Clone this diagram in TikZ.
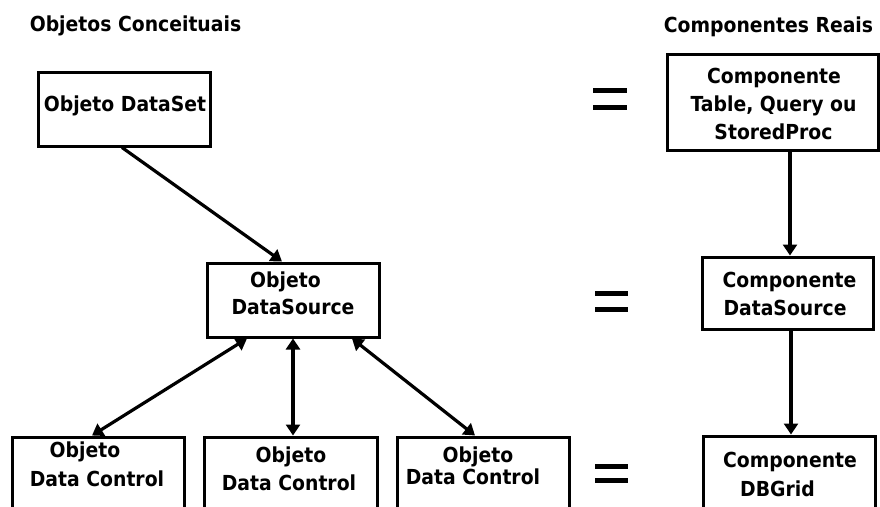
\documentclass[tikz,border=0pt]{standalone}
\usepackage{fontspec}
\setmainfont{DejaVu Sans}
\usetikzlibrary{arrows.meta}
\newcommand{\tl}[1]{\scalebox{1}[1.1]{#1}}
\tikzset{
  box/.style={draw=black, line width=3pt, fill=none, inner sep=0pt, minimum width=172pt, minimum height=74pt},
  lbl/.style={anchor=base, inner sep=0pt, font=\bfseries\fontsize{18.8}{22}\selectfont},
  conn/.style={line width=3.2pt, -{Triangle[width=14pt,length=11pt]}},
  bconn/.style={line width=3.2pt, {Triangle[width=14pt,length=11pt]}-{Triangle[width=14pt,length=11pt]}},
  eqbar/.style={line width=5pt}
}
\begin{document}
\begin{tikzpicture}[x=1pt,y=-1pt]
\useasboundingbox (0,0) rectangle (880,506);
\clip (0,0) rectangle (880,506);
\fill[white] (0,0) rectangle (880,506);

% titles
\node[lbl] (t1) at (135.5,31.5) {\tl{Objetos Conceituais}};
\node[lbl] (t2) at (768.5,32) {\tl{Componentes Reais}};

% boxes
\node[box] (dataset) at (124,109) {};
\node[box, minimum width=211pt, minimum height=96pt] (table) at (772.5,102) {};
\node[box] (dsrc) at (293,300) {};
\node[box, minimum width=171pt, minimum height=72pt] (compds) at (787.5,293) {};
\node[box, minimum height=80pt] (dbgrid) at (789,476) {};
\node[box, minimum height=80pt] (dc1) at (98,477) {};
\node[box, minimum width=173pt, minimum height=80pt] (dc2) at (290.5,477) {};
\node[box, minimum height=80pt] (dc3) at (483,477) {};

% texts
\node[lbl] (l1) at (125,111) {\tl{Objeto DataSet}};
\node[lbl] (l2a) at (774,83) {\tl{Componente}};
\node[lbl] (l2b) at (773.5,111) {\tl{Table, Query ou}};
\node[lbl] (l2c) at (773.5,139) {\tl{StoredProc}};
\node[lbl] (l3a) at (285.5,287) {\tl{Objeto}};
\node[lbl] (l3b) at (293,314) {\tl{DataSource}};
\node[lbl] (l4a) at (789.5,287) {\tl{Componente}};
\node[lbl] (l4b) at (785,315) {\tl{DataSource}};
\node[lbl] (l5a) at (790,467) {\tl{Componente}};
\node[lbl] (l5b) at (777.5,496) {\tl{DBGrid}};
\node[lbl] (l6a) at (85,457) {\tl{Objeto}};
\node[lbl] (l6b) at (97,486) {\tl{Data Control}};
\node[lbl] (l7a) at (291,462) {\tl{Objeto}};
\node[lbl] (l7b) at (289,490) {\tl{Data Control}};
\node[lbl] (l8a) at (478,462) {\tl{Objeto}};
\node[lbl] (l8b) at (473,484) {\tl{Data Control}};

% equals signs
\draw[eqbar] (593,90) -- (627,90);
\draw[eqbar] (593,107) -- (627,107);
\draw[eqbar] (595,293.5) -- (628,293.5);
\draw[eqbar] (595,309) -- (628,309);
\draw[eqbar] (595,466) -- (628,466);
\draw[eqbar] (595,480) -- (628,480);

% connectors
\draw[conn] ([xshift=-2pt]dataset.south) -- ([xshift=-11pt]dsrc.north);
\draw[bconn] ([xshift=-46pt]dsrc.south) -- ([xshift=-6pt]dc1.north);
\draw[bconn] (dsrc.south) -- (dsrc.south |- dc2.north);
\draw[bconn] ([xshift=59pt]dsrc.south) -- ([xshift=-8pt]dc3.north);
\draw[conn] ([xshift=2.5pt]compds.north |- table.south) -- ([xshift=2.5pt]compds.north);
\draw[conn] ([xshift=3.5pt]compds.south) -- ([xshift=3.5pt]compds.south |- dbgrid.north);
\end{tikzpicture}
\end{document}
